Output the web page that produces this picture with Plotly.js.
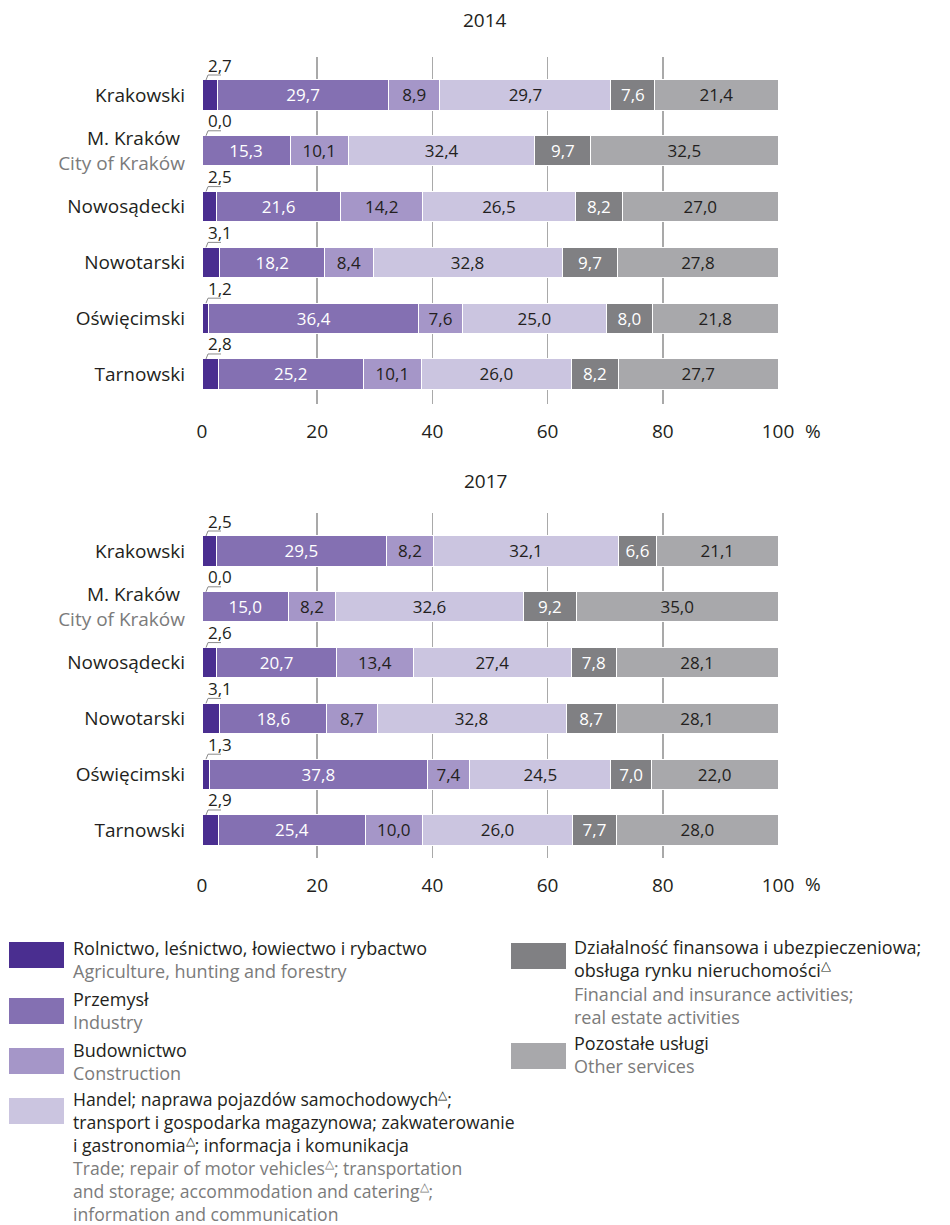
<!DOCTYPE html>
<html>
<head>
<meta charset="utf-8">
<script src="https://cdn.plot.ly/plotly-3.0.1.min.js"></script>
<style>html,body{margin:0;padding:0;background:#fff;}#chart{width:950px;height:1225px;}</style>
</head>
<body>
<div id="chart"></div>
<script>
// ---------- DATA ----------
const categories = ['Krakowski', 'M. Kraków', 'Nowosądecki', 'Nowotarski', 'Oświęcimski', 'Tarnowski'];
const tickLabels = ['Krakowski', 'M. Kraków <br><span style="color:#7b7b7b">City of Kraków</span>', 'Nowosądecki', 'Nowotarski', 'Oświęcimski', 'Tarnowski'];
const years = ['2014', '2017'];

const seriesPl = [
  'Rolnictwo, leśnictwo, łowiectwo i rybactwo',
  'Przemysł',
  'Budownictwo',
  'Handel; naprawa pojazdów samochodowych<sup>△</sup>;<br>transport i gospodarka magazynowa; zakwaterowanie<br>i gastronomia<sup>△</sup>; informacja i komunikacja',
  'Działalność finansowa i ubezpieczeniowa;<br>obsługa rynku nieruchomości<sup>△</sup>',
  'Pozostałe usługi'
];
const seriesEn = [
  'Agriculture, hunting and forestry',
  'Industry',
  'Construction',
  'Trade; repair of motor vehicles<sup>△</sup>; transportation<br>and storage; accommodation and catering<sup>△</sup>;<br>information and communication',
  'Financial and insurance activities;<br>real estate activities',
  'Other services'
];

// values per series (rows follow categories order)
const agriculture2014 = [2.7, 0.0, 2.5, 3.1, 1.2, 2.8];
const industry2014    = [29.7, 15.3, 21.6, 18.2, 36.4, 25.2];
const construction2014= [8.9, 10.1, 14.2, 8.4, 7.6, 10.1];
const trade2014       = [29.7, 32.4, 26.5, 32.8, 25.0, 26.0];
const finance2014     = [7.6, 9.7, 8.2, 9.7, 8.0, 8.2];
const other2014       = [21.4, 32.5, 27.0, 27.8, 21.8, 27.7];

const agriculture2017 = [2.5, 0.0, 2.6, 3.1, 1.3, 2.9];
const industry2017    = [29.5, 15.0, 20.7, 18.6, 37.8, 25.4];
const construction2017= [8.2, 8.2, 13.4, 8.7, 7.4, 10.0];
const trade2017       = [32.1, 32.6, 27.4, 32.8, 24.5, 26.0];
const finance2017     = [6.6, 9.2, 7.8, 8.7, 7.0, 7.7];
const other2017       = [21.1, 35.0, 28.1, 28.1, 22.0, 28.0];

const xTickVals = [0, 20, 40, 60, 80, 100];

// ---------- STYLE ----------
const colors = ['#4a2e90', '#8470b2', '#a596c8', '#cbc5e0', '#808083', '#a8a8ab'];
const textColors = ['#ffffff', '#ffffff', '#231f20', '#231f20', '#ffffff', '#231f20'];
const dark = '#231f20';
const grayText = '#7b7b7b';
const FONT = '"Open Sans", "Noto Sans", sans-serif';
const W = 950, H = 1225;
const px = x => x / W;
const py = y => 1 - y / H;

const data2014 = [agriculture2014, industry2014, construction2014, trade2014, finance2014, other2014];
const data2017 = [agriculture2017, industry2017, construction2017, trade2017, finance2017, other2017];

const traces = [];
[[data2014, 'x', 'y'], [data2017, 'x2', 'y2']].forEach(([set, xa, ya]) => {
  set.forEach((vals, i) => {
    const t = {
      type: 'bar',
      orientation: 'h',
      y: categories,
      x: vals,
      xaxis: xa, yaxis: ya,
      name: seriesPl[i],
      marker: {color: colors[i], line: {color: '#ffffff', width: 1}},
      showlegend: false,
      hoverinfo: 'skip'
    };
    if (i > 0) {
      t.text = vals.map(v => v.toFixed(1).replace('.', ','));
      t.textposition = 'inside';
      t.insidetextanchor = 'middle';
      t.textangle = 0;
      t.constraintext = 'none';
      t.insidetextfont = {family: FONT, size: 17, color: textColors[i]};
    }
    traces.push(t);
  });
});

const annotations = [];
const shapes = [];

// small labels for agriculture above bars with bracket
[[agriculture2014, 'x', 'y'], [agriculture2017, 'x2', 'y2']].forEach(([vals, xa, ya]) => {
  vals.forEach((v, k) => {
    annotations.push({
      xref: xa, yref: ya, x: 0, y: categories[k],
      xanchor: 'left', yanchor: 'middle', xshift: 4, yshift: 30,
      text: v.toFixed(1).replace('.', ','), showarrow: false,
      font: {family: FONT, size: 17, color: dark}
    });
    shapes.push({
      type: 'path', xref: xa, yref: ya,
      xsizemode: 'pixel', ysizemode: 'pixel',
      xanchor: 0, yanchor: categories[k],
      path: 'M 4 15 L 6 20 L 19 20',
      line: {color: '#8a8a8a', width: 1}
    });
  });
});

// panel titles and % labels
[[years[0], 20, 431], [years[1], 481, 884]].forEach(([t, ty, pctY]) => {
  annotations.push({xref: 'paper', yref: 'paper', x: px(485), y: py(ty), xanchor: 'center', yanchor: 'middle',
    text: t, showarrow: false, font: {family: FONT, size: 19, color: dark}});
  annotations.push({xref: 'paper', yref: 'paper', x: px(813), y: py(pctY), xanchor: 'center', yanchor: 'middle',
    text: '%', showarrow: false, font: {family: FONT, size: 19, color: dark}});
});

// legend (custom)
const legendPos = [
  [9, 942, 71, 934],
  [9, 998, 71, 985],
  [9, 1048, 71, 1036],
  [9, 1098, 71, 1084],
  [511, 943, 572, 933],
  [511, 1043, 572, 1029]
];
legendPos.forEach(([sx, sy, tx, ty], i) => {
  shapes.push({type: 'rect', xref: 'paper', yref: 'paper',
    x0: px(sx), x1: px(sx + 55), y0: py(sy), y1: py(sy + 26),
    fillcolor: colors[i], line: {width: 0}});
  annotations.push({xref: 'paper', yref: 'paper', x: px(tx), y: py(ty), xanchor: 'left', yanchor: 'top',
    align: 'left', showarrow: false,
    text: seriesPl[i] + '<br><span style="color:' + grayText + '">' + seriesEn[i] + '</span>',
    font: {family: FONT, size: i === 3 ? 17.6 : 18, color: dark}});
});

const xAxisBase = {
  range: [0, 100], tickvals: xTickVals, ticktext: xTickVals.map(String),
  showgrid: true, gridcolor: '#a9a9a9', gridwidth: 1.5, zeroline: false, showline: false,
  ticks: '', ticklabelstandoff: 14, tickfont: {family: FONT, size: 19, color: dark}, fixedrange: true
};
const yAxisBase = {
  type: 'category', categoryorder: 'array', categoryarray: categories,
  tickvals: categories, ticktext: tickLabels,
  showgrid: false, zeroline: false, showline: false, ticks: '', ticklabelstandoff: 16,
  tickfont: {family: FONT, size: 19, color: dark}, fixedrange: true
};

const layout = {
  width: W, height: H,
  margin: {l: 0, r: 0, t: 0, b: 0},
  paper_bgcolor: '#ffffff', plot_bgcolor: 'rgba(0,0,0,0)',
  barmode: 'stack', bargap: 0.46,
  separators: ', ',
  font: {family: FONT, color: dark},
  showlegend: false,
  hovermode: false,
  xaxis: Object.assign({}, xAxisBase, {domain: [px(202), px(778)], anchor: 'y'}),
  yaxis: Object.assign({}, yAxisBase, {domain: [py(404), py(57)], range: [5.538, -0.681], anchor: 'x'}),
  xaxis2: Object.assign({}, xAxisBase, {domain: [px(202), px(778)], anchor: 'y2'}),
  yaxis2: Object.assign({}, yAxisBase, {domain: [py(858), py(513)], range: [5.502, -0.681], anchor: 'x2'}),
  annotations: annotations,
  shapes: shapes
};

Plotly.newPlot('chart', traces, layout, {displayModeBar: false, staticPlot: true});
</script>
</body>
</html>
